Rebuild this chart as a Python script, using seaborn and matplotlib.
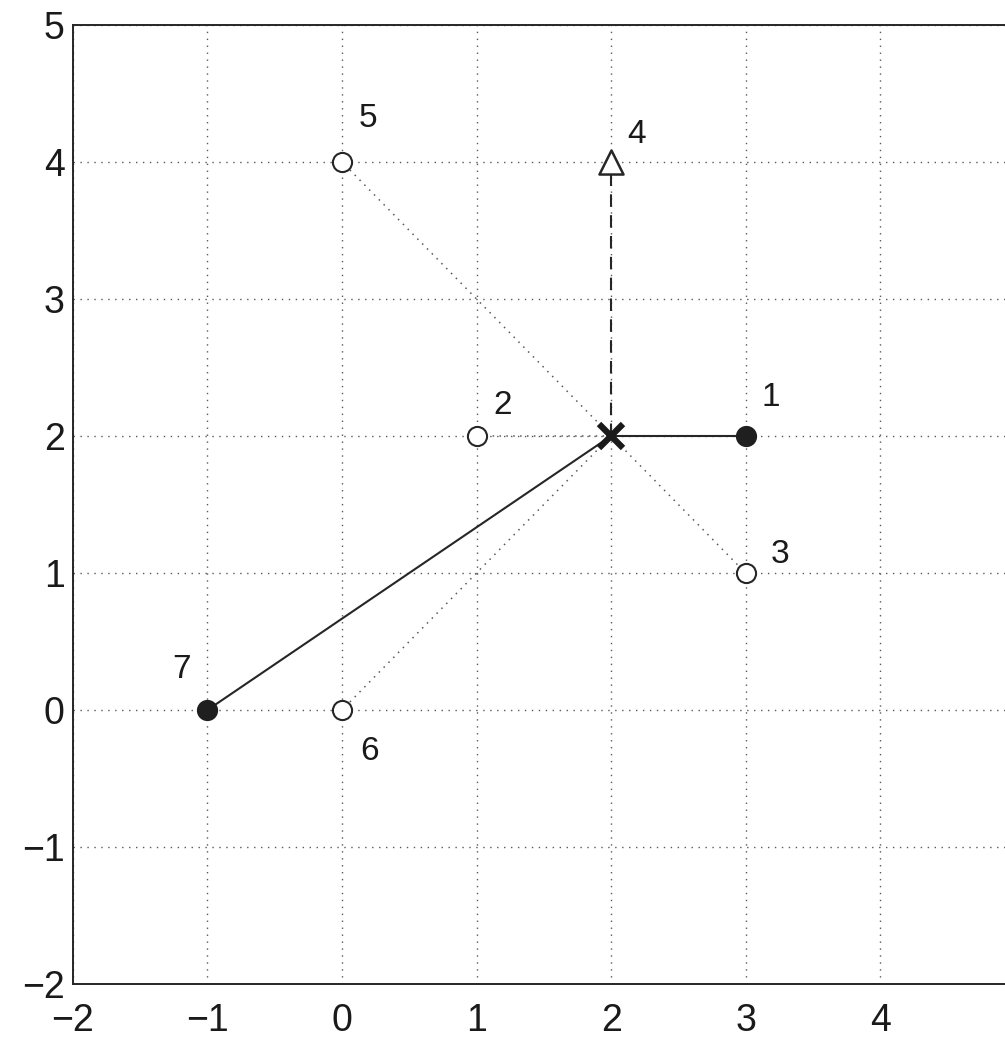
import matplotlib
matplotlib.use("Agg")
import matplotlib.pyplot as plt
import seaborn as sns
import pandas as pd

# points around the center
pt_id = [1, 2, 3, 4, 5, 6, 7]
pt_x = [3, 1, 3, 2, 0, 0, -1]
pt_y = [2, 2, 1, 4, 4, 0, 0]
pt_kind = ["filled", "open", "open", "triangle", "open", "open", "filled"]
link_style = ["-", ":", ":", "--", ":", ":", "-"]
center_x, center_y = 2, 2

x_ticks = [-2, -1, 0, 1, 2, 3, 4, 5]
y_ticks = [-2, -1, 0, 1, 2, 3, 4, 5]

df = pd.DataFrame({"id": pt_id, "x": pt_x, "y": pt_y, "kind": pt_kind, "ls": link_style})

sns.set_style("white")
plt.rcParams["font.family"] = ["Liberation Sans", "DejaVu Sans"]

fig = plt.figure(figsize=(10.05, 10.38), dpi=100)
# axes runs past the right edge, like the cropped scan
ax = fig.add_axes([0.0726, 0.052, 0.937, 0.924])

# links from the center to every point
for _, r in df.iterrows():
    if r["ls"] == ":":
        ax.plot([center_x, r["x"]], [center_y, r["y"]], color="0.35",
                lw=1.1, linestyle=(0, (1, 3.5)), zorder=2)
    elif r["ls"] == "--":
        ax.plot([center_x, r["x"]], [center_y, r["y"]], color="0.15",
                lw=1.5, linestyle=(0, (6, 4)), zorder=2)
    else:
        ax.plot([center_x, r["x"]], [center_y, r["y"]], color="0.15",
                lw=1.5, zorder=2)

filled = df[df["kind"] == "filled"]
opened = df[df["kind"] == "open"]
tri = df[df["kind"] == "triangle"]
sns.scatterplot(data=filled, x="x", y="y", ax=ax, s=200, color="0.12",
                edgecolor="0.12", zorder=4)
sns.scatterplot(data=opened, x="x", y="y", ax=ax, s=190, facecolor="white",
                edgecolor="0.15", linewidth=1.5, zorder=4)
sns.scatterplot(data=tri, x="x", y="y", ax=ax, s=300, marker="^",
                facecolor="white", edgecolor="0.15", linewidth=1.8, zorder=4)
ax.plot([center_x], [center_y], marker="x", ms=17, mew=4.5, color="0.1",
        zorder=5)

label_off = {1: (18, 28), 2: (19, 22), 3: (25, 13), 4: (18, 20),
             5: (19, 31), 6: (20, -30), 7: (-19, 29)}
for _, r in df.iterrows():
    ax.annotate(str(r["id"]), (r["x"], r["y"]), textcoords="offset points",
                xytext=label_off[r["id"]], ha="center", va="center",
                fontsize=24, color="0.1")

ax.set_xlim(-2, 5)
ax.set_ylim(-2, 5)
ax.set_xticks(x_ticks)
ax.set_yticks(y_ticks)
# last x label falls off the cropped edge
ax.set_xticklabels([str(t).replace("-", "\u2212") if t < 5 else "" for t in x_ticks])
ax.set_yticklabels([str(t).replace("-", "\u2212") for t in y_ticks])
ax.set_xlabel("")
ax.set_ylabel("")
ax.grid(True, color="0.35", linestyle=(0, (1, 4)), lw=1.0)
ax.tick_params(direction="in", length=6, width=1, labelsize=27,
               colors="0.1")
ax.tick_params(axis="x", pad=14)
ax.tick_params(axis="y", pad=6)
for s in ax.spines.values():
    s.set_color("0.15")
    s.set_linewidth(1.4)

fig.savefig("out.png", dpi=100)
